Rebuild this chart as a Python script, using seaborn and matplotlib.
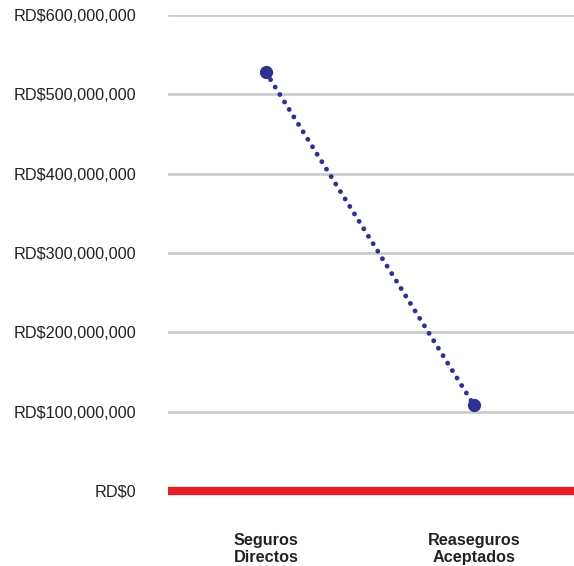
import matplotlib
matplotlib.use("Agg")
import matplotlib.pyplot as plt
import seaborn as sns
import pandas as pd
from matplotlib.ticker import FuncFormatter

categories = ["Seguros\nDirectos", "Reaseguros\nAceptados"]
values = [528_000_000, 108_000_000]
yticks = [0, 100_000_000, 200_000_000, 300_000_000, 400_000_000, 500_000_000, 600_000_000]

df = pd.DataFrame({"cat": categories, "val": values})

sns.set_theme(style="white")
plt.rcParams["font.family"] = ["Liberation Sans", "DejaVu Sans"]

fig = plt.figure(figsize=(5.74, 5.66), dpi=100)
ax = fig.add_axes([168/574, (566-491)/566, 1 - 168/574, (491-15)/566])

navy = "#2E3192"
sns.lineplot(data=df, x="cat", y="val", ax=ax, color=navy, marker="o",
             markersize=9.5, markeredgewidth=0, linewidth=3.5, sort=False)
line = ax.lines[0]
line.set_linestyle((0, (0.01, 1.8)))
line.set_dash_capstyle("round")

ax.set_ylim(0, 600_000_000)
ax.set_xlim(-0.47, 1.48)
ax.set_yticks(yticks)
ax.yaxis.set_major_formatter(FuncFormatter(lambda v, p: f"RD${int(v):,}"))
ax.grid(axis="y", color="#CCCCCC", linewidth=2)
ax.grid(axis="x", visible=False)
for s in ["top", "right", "left"]:
    ax.spines[s].set_visible(False)
ax.spines["bottom"].set_color("#E31E24")
ax.spines["bottom"].set_linewidth(6)
ax.spines["bottom"].set_capstyle("butt")
ax.spines["bottom"].set_zorder(3)
ax.tick_params(axis="y", length=0, pad=23, labelsize=11.7, labelcolor="#222222")
ax.tick_params(axis="x", length=0, pad=30, labelsize=11.7, labelcolor="#222222")
for t in ax.get_xticklabels():
    t.set_fontweight("bold")
ax.set_xlabel("")
ax.set_ylabel("")
ax.set_axisbelow(True)

fig.savefig("out.png", dpi=100, facecolor="white")
